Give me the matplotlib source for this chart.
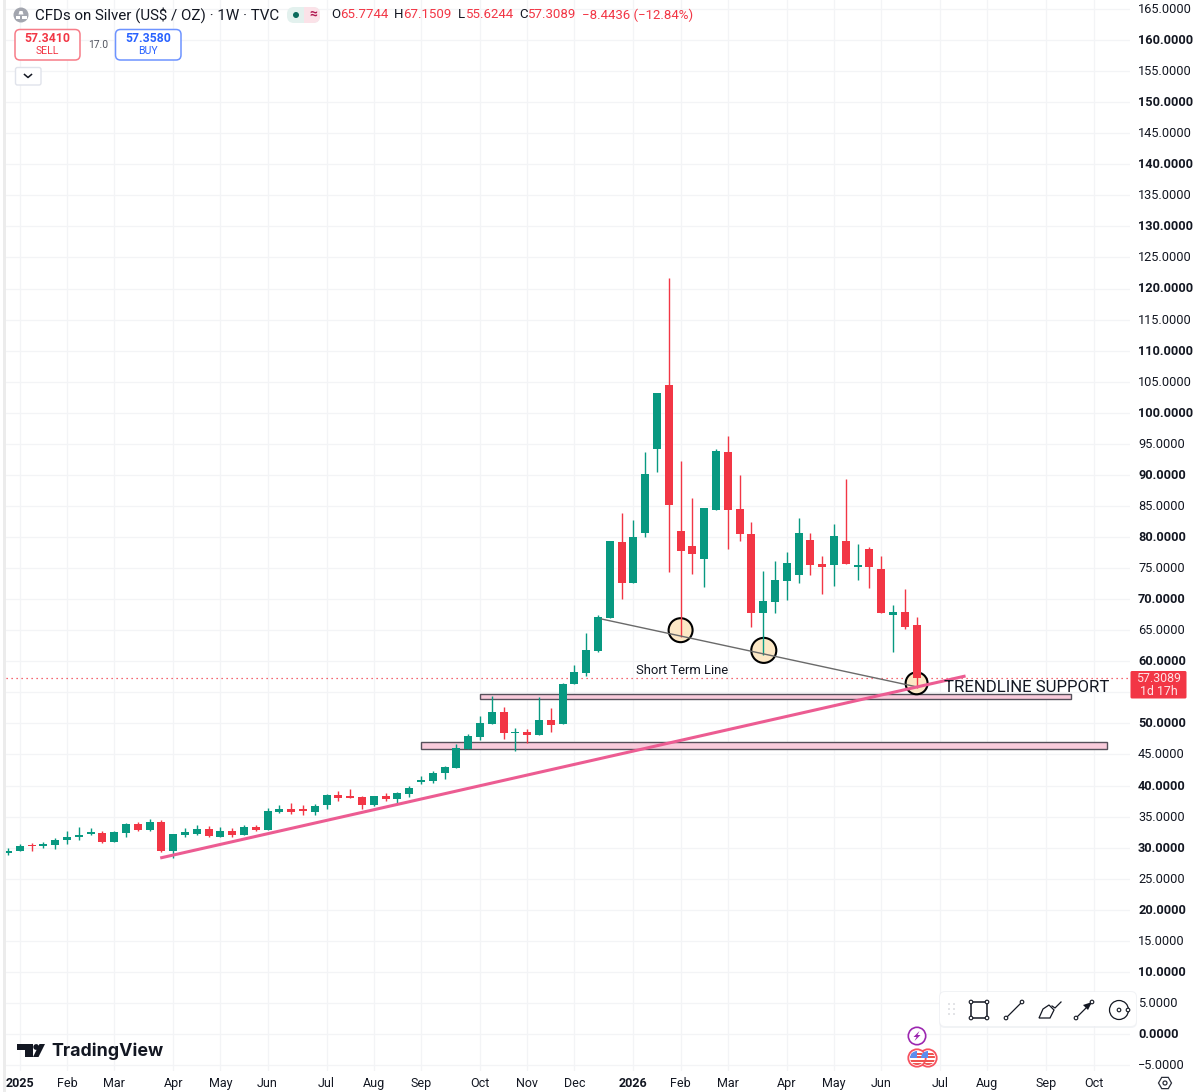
# weekly silver candles with hand drawn levels, trading terminal look
import matplotlib
matplotlib.use('Agg')
import matplotlib.pyplot as plt
from matplotlib.patches import FancyBboxPatch, Circle, Polygon, Rectangle, RegularPolygon
from matplotlib.transforms import ScaledTranslation

plt.rcParams['font.family'] = ['Roboto', 'DejaVu Sans']

UP = '#089981'
DOWN = '#F23645'
INK = '#131722'
GRID = '#f3f4f6'

# one row per week, oldest first
opens = [29.1, 29.51, 30.3, 30.33, 30.48, 31.23, 31.65, 32.2, 32.35, 30.9, 32.4, 33.8, 32.84, 34.07,
         29.45, 32.08, 32.25, 33.05, 31.76, 32.62, 32.08, 33.37, 32.84, 35.73, 36.16, 36.05, 35.74,
         36.8, 38.47, 38.15, 38.1, 36.8, 38.31, 37.83, 38.69, 40.56, 40.78, 41.96, 42.87, 45.82,
         47.8, 49.9, 51.83, 48.4, 48.56, 48.18, 50.49, 49.9, 56.4, 58.17, 61.66, 67.02, 79.2, 72.66,
         80.6, 94.17, 104.4, 80.97, 78.6, 76.52, 84.4, 93.63, 84.51, 80.54, 67.83, 69.55, 72.92,
         73.83, 79.46, 75.65, 75.44, 79.36, 75.2, 78.01, 74.9, 67.5, 67.98, 65.7744]
highs = [29.9, 30.53, 30.8, 30.96, 31.6, 32.67, 33.4, 33.1, 32.67, 32.6, 33.9, 34.1, 34.55, 34.44,
         32.2, 33.1, 33.7, 33.48, 33.26, 33.2, 33.7, 33.64, 36.38, 36.8, 37.2, 36.8, 37.0,
         38.6, 39.1, 39.4, 38.3, 38.37, 38.74, 38.95, 39.87, 41.48, 42.34, 43.14, 46.68, 48.3,
         51.24, 54.46, 52.69, 49.3, 49.04, 54.3, 52.4, 56.5, 59.34, 64.61, 67.4, 79.36, 83.82, 82.74,
         93.69, 103.24, 121.64, 92.19, 86.28, 84.68, 94.12, 96.32, 89.99, 82.42, 74.53, 76.14, 77.58,
         83.06, 80.7, 77.0, 82.15, 89.33, 78.87, 78.34, 77.0, 69.06, 71.58, 67.1509]
lows = [28.8, 29.4, 29.45, 30.0, 29.7, 30.64, 31.23, 32.0, 30.74, 30.9, 31.76, 32.6, 32.7, 29.24,
        28.27, 31.76, 32.03, 31.66, 31.7, 31.66, 32.03, 32.67, 32.84, 35.5, 35.46, 35.25, 35.3,
        36.2, 37.5, 37.94, 36.2, 36.7, 37.5, 36.97, 38.2, 40.3, 40.46, 41.1, 42.87, 45.82,
        47.32, 49.9, 47.54, 45.5, 46.8, 48.18, 48.6, 49.9, 56.28, 57.64, 61.55, 67.02, 70.08, 72.66,
        79.95, 90.47, 74.43, 63.97, 74.1, 72.0, 84.4, 78.13, 79.42, 65.58, 61.0, 67.83, 69.81,
        72.6, 73.88, 70.83, 72.17, 75.71, 73.08, 71.74, 67.71, 61.55, 65.14, 55.6244]
closes = [29.5, 30.21, 30.2, 30.42, 31.17, 31.76, 32.08, 32.35, 30.9, 32.5, 33.8, 32.84, 34.12, 29.45,
          32.2, 32.5, 33.05, 31.8, 32.62, 32.03, 33.32, 32.84, 35.84, 36.16, 35.73, 35.95, 36.76,
          38.42, 37.99, 37.99, 36.8, 38.26, 37.83, 38.8, 39.55, 40.89, 42.07, 42.98, 46.04, 47.97,
          50.0, 51.83, 48.45, 48.6, 48.18, 50.49, 49.8, 56.34, 58.2, 61.82, 67.13, 79.36, 72.66, 79.95,
          90.15, 103.24, 85.16, 77.8, 77.22, 84.68, 93.8, 84.4, 80.49, 67.83, 69.76, 73.03, 75.81,
          80.64, 75.55, 75.12, 80.21, 75.71, 75.39, 75.17, 67.71, 68.0, 65.57, 57.3089]

month_weeks = [1, 5, 9, 14, 18, 22, 27, 31, 35, 40, 44, 48, 53, 57, 61, 66, 70, 74, 79, 83, 88, 92]
month_labels = ['2025', 'Feb', 'Mar', 'Apr', 'May', 'Jun', 'Jul', 'Aug', 'Sep', 'Oct', 'Nov', 'Dec',
                '2026', 'Feb', 'Mar', 'Apr', 'May', 'Jun', 'Jul', 'Aug', 'Sep', 'Oct']
price_ticks = list(range(-5, 170, 5))

last_price = 57.3089
trend_weeks = [12.9, 81.15]
trend_prices = [28.33, 57.63]
short_weeks = [50.3, 76.95]
short_prices = [66.8, 55.9]
touch_weeks = [57.0, 64.05, 77.0]
touch_prices = [65.0, 61.75, 56.45]
touch_sizes = [298, 325, 250]
zone_low = [45.88, 47.0, 35.0, 93.13]   # bottom, top, first week, last week
zone_high = [53.92, 54.73, 40.0, 90.1]

fig = plt.figure(figsize=(12, 10.92), dpi=100)
ax = fig.add_axes([6 / 1200, 21 / 1092, 1124 / 1200, 1071 / 1092])
ax.set_xlim(-2 / 11.8, 1122 / 11.8)
ax.set_ylim(-37 / 6.2125, 1034 / 6.2125)
for side in ax.spines.values():
    side.set_visible(False)

ax.set_axisbelow(True)
ax.grid(True, color=GRID, lw=0.9)
ax.set_xticks(month_weeks)
ax.set_xticklabels(month_labels, fontsize=9, color=INK)
ax.set_yticks(price_ticks)
# the last price tag covers the 55 level on the scale
ax.set_yticklabels(['' if p == 55 else '\u2212%.4f' % abs(p) if p < 0 else '%.4f' % p for p in price_ticks],
                   fontsize=9.2, color=INK)
ax.yaxis.tick_right()
ax.tick_params(length=0)
ax.tick_params(axis='y', pad=5.8)
ax.tick_params(axis='x', pad=4.6)
nudge_up = ScaledTranslation(0, 1 / 100, fig.dpi_scale_trans)
for lab, p in zip(ax.get_yticklabels(), price_ticks):
    lab.set_transform(lab.get_transform() + nudge_up)
    if p % 10 == 0:
        lab.set_fontweight('bold')
for lab in ax.get_xticklabels():
    if lab.get_text() in ('2025', '2026'):
        lab.set_fontweight('bold')

ax.axhline(last_price, color=DOWN, lw=0.9, ls=(0, (1, 3)), zorder=1.5)

# support zones sit under the candles
for bottom, top, first, last in [zone_low, zone_high]:
    ax.add_patch(Rectangle((first, bottom), last - first, top - bottom, fc='#f9cbdb', ec='#55505a',
                           lw=1.0, zorder=1.6))

ax.scatter(touch_weeks, touch_prices, s=touch_sizes, fc='#fce8c6', ec='black', lw=1.5, zorder=2)

weeks = list(range(len(opens)))
colors = [UP if c >= o else DOWN for o, c in zip(opens, closes)]
ax.vlines(weeks, lows, highs, colors=colors, lw=1.0, zorder=3)
ax.bar(weeks, [max(abs(c - o), 0.25) for o, c in zip(opens, closes)],
       bottom=[min(o, c) for o, c in zip(opens, closes)], width=0.68, color=colors, lw=0, zorder=3.1)

ax.plot(short_weeks, short_prices, color='#6a6a6a', lw=1.0, zorder=4)
ax.plot(trend_weeks, trend_prices, color='#ec5c92', lw=2.2, zorder=4.1, solid_capstyle='butt')

# everything else on the terminal is placed in screen pixels
ui = fig.add_axes([0, 0, 1, 1], zorder=5)
ui.set_xlim(0, 1200)
ui.set_ylim(1092, 0)
ui.axis('off')


def rounded(x0, y0, x1, y1, radius=3, **kw):
    ui.add_patch(FancyBboxPatch((x0, y0), x1 - x0, y1 - y0,
                                boxstyle='round,pad=0,rounding_size=%s' % radius, **kw))


ui.add_patch(Rectangle((3, 0), 3, 1092, fc='#ececec', ec='none'))

ui.text(682, 670, 'Short Term Line', fontsize=9.4, color=INK, ha='center', va='center')
ui.text(944, 687.5, 'TRENDLINE SUPPORT', fontsize=12.05, color=INK, ha='left', va='center')

# header row
ui.add_patch(Circle((21, 15), 7.5, fc='#a3a6af', ec='none'))
ui.add_patch(Polygon([[18.5, 14.5], [23.5, 14.5], [22.5, 11], [19.5, 11]], fc='white', ec='none'))
ui.add_patch(Rectangle((15.5, 16), 4.5, 3, fc='white', ec='none'))
ui.add_patch(Rectangle((22, 16), 4.5, 3, fc='white', ec='none'))
ui.text(35, 15, 'CFDs on Silver (US$ / OZ) \u00b7 1W \u00b7 TVC', fontsize=10.9, color=INK, va='center')

rounded(287, 7, 320, 23, radius=7, fc='#e3f1ee', ec='none')
ui.add_patch(Rectangle((304, 7), 8, 16, fc='#fbe2e8', ec='none'))
rounded(306, 7, 320, 23, radius=7, fc='#fbe2e8', ec='none')
ui.add_patch(Circle((296, 15), 3, fc='#0b6b5c', ec='none'))
ui.text(313, 15, '\u2248', fontsize=10, color='#b0174f', ha='center', va='center', fontweight='bold')

ohlc_parts = [(331, 'O', INK), (340, '65.7744', DOWN), (394, 'H', INK), (403, '67.1509', DOWN),
              (458, 'L', INK), (466, '55.6244', DOWN), (519, 'C', INK), (528, '57.3089', DOWN),
              (582, '\u22128.4436 (\u221212.84%)', DOWN)]
for px, txt, col in ohlc_parts:
    ui.text(px, 15, txt, fontsize=9.5, color=col, va='center')

rounded(15, 29.5, 80, 60, radius=5, fc='white', ec='#f77c88', lw=1.1)
ui.text(47.5, 38.5, '57.3410', fontsize=8.8, color=DOWN, ha='center', va='center', fontweight='bold')
ui.text(47.5, 51, 'SELL', fontsize=7.6, color=DOWN, ha='center', va='center')
ui.text(98, 45, '17.0', fontsize=7.4, color='#50535e', ha='center', va='center')
rounded(115.5, 29.5, 181, 60, radius=5, fc='white', ec='#6d93ff', lw=1.1)
ui.text(148, 38.5, '57.3580', fontsize=8.8, color='#2962FF', ha='center', va='center', fontweight='bold')
ui.text(148, 51, 'BUY', fontsize=7.6, color='#2962FF', ha='center', va='center')
rounded(15.5, 67.5, 41, 85, radius=2, fc='white', ec='#e0e3eb', lw=1.0)
ui.plot([24.5, 28, 31.5], [74.5, 77.5, 74.5], color=INK, lw=1.1)

# last price tag
rounded(1130.5, 671, 1186.5, 698.5, radius=1.5, fc=DOWN, ec='none')
ui.text(1159, 684.8, '57.3089\n1d 17h', fontsize=8.9, color='#fde3e6', ha='center', va='center',
        linespacing=1.05)

# logo
logo_color = '#131722'
ui.add_patch(Polygon([[17, 1044], [33, 1044], [33, 1057], [25, 1057], [25, 1050], [17, 1050]],
                     fc=logo_color, ec='none'))
ui.add_patch(Circle((36.2, 1047), 2.9, fc=logo_color, ec='none'))
ui.add_patch(Polygon([[39.5, 1044], [45, 1044], [38.5, 1057], [33, 1057]], fc=logo_color, ec='none'))
ui.text(51, 1051, 'TradingView', fontsize=12.85, color=logo_color, va='center', fontweight='bold',
        family=['Inter', 'Roboto', 'DejaVu Sans'])

# drawing toolbar
rounded(939, 991, 1137, 1028, radius=6, fc='#eceef2', ec='none', alpha=0.7)
rounded(940, 992, 1136, 1026, radius=5, fc='white', ec='none')
for row_y in [1004, 1009, 1014]:
    for col_x in [949, 954]:
        ui.add_patch(Circle((col_x, row_y), 0.7, fc='#b8bac2', ec='none'))
dot = dict(fc='white', ec=INK, lw=0.8, zorder=7)
ui.add_patch(Rectangle((971, 1002), 16, 16, fc='none', ec=INK, lw=1.1, zorder=6))
for cx, cy in [(971, 1002), (987, 1002), (971, 1018), (987, 1018)]:
    ui.add_patch(Circle((cx, cy), 1.8, **dot))
ui.plot([1006, 1022], [1018, 1002], color=INK, lw=0.9, zorder=6)
ui.add_patch(Circle((1006, 1018), 1.8, **dot))
ui.add_patch(Circle((1022, 1002), 1.8, **dot))
ui.add_patch(Polygon([[1039, 1018], [1050, 1018], [1054, 1010], [1049, 1005], [1043, 1009]],
                     fc='white', ec=INK, lw=0.9, zorder=6))
ui.plot([1052, 1055, 1061], [1006, 1008, 1002], color=INK, lw=0.9, zorder=6)
ui.plot([1076, 1092], [1018, 1002], color=INK, lw=0.9, zorder=6)
ui.add_patch(Polygon([[1092, 1002], [1083, 1005], [1088, 1010]], fc=INK, ec='none', zorder=6))
ui.add_patch(Circle((1076, 1018), 1.8, **dot))
ui.add_patch(Circle((1092, 1002), 1.8, **dot))
ui.add_patch(Circle((1119, 1010), 9.5, fc='white', ec=INK, lw=0.9, zorder=6))
ui.add_patch(Circle((1119, 1010), 1.8, **dot))
ui.add_patch(Circle((1128, 1010), 1.8, **dot))

# event markers under the last candle
ui.add_patch(Circle((917, 1036), 8.7, fc='white', ec='#9c27b0', lw=1.2))
ui.add_patch(Polygon([[919.5, 1031], [913.5, 1037], [916.5, 1037], [914.5, 1041], [920.5, 1035],
                      [917.5, 1035]], fc='#9c27b0', ec='none'))
for flag_x in [928, 917]:
    ring = Circle((flag_x, 1058), 8.7, fc='white', ec='#f7525f', lw=1.3, zorder=6)
    ui.add_patch(ring)
    inner = Circle((flag_x, 1058), 7.0, transform=ui.transData)
    for stripe_y in [1052.5, 1056, 1059.5, 1063]:
        stripe = Rectangle((flag_x - 8, stripe_y), 16, 2, fc='#ef5350', ec='none', zorder=6.1)
        ui.add_patch(stripe)
        stripe.set_clip_path(inner)
    canton = Rectangle((flag_x - 8, 1051), 8, 7, fc='#5b8def', ec='none', zorder=6.2)
    ui.add_patch(canton)
    canton.set_clip_path(inner)

# settings button at the axis corner
ui.add_patch(RegularPolygon((1165, 1083), 6, radius=6.5, orientation=0.5236,
                            fc='white', ec='#2a2e39', lw=0.9))
ui.add_patch(Circle((1165, 1083), 2, fc='white', ec='#2a2e39', lw=0.9))

fig.savefig('out.png', dpi=100)
